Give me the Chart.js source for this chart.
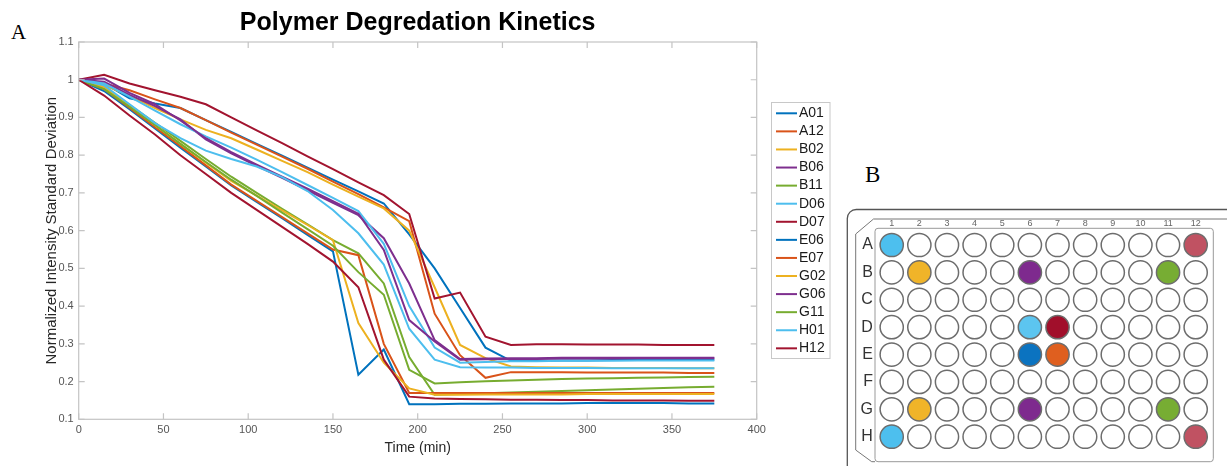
<!DOCTYPE html>
<html>
<head>
<meta charset="utf-8">
<script src="https://cdn.jsdelivr.net/npm/chart.js@4.4.1/dist/chart.umd.min.js"></script>
<style>
  html, body { margin: 0; padding: 0; background: #fff; }
  body { width: 1227px; height: 466px; position: relative; overflow: hidden; }
  #kinetics { position: absolute; left: 0; top: 0; }
  #plate { position: absolute; left: 840px; top: 160px; }
  .panel-tag { position: absolute; font-family: "Liberation Serif", "Times New Roman", serif; line-height: 1; color: #000; }
</style>
</head>
<body>
<div class="panel-tag" style="left:11px; top:22px; font-size:21px;">A</div>
<div class="panel-tag" style="left:865px; top:163px; font-size:23px;">B</div>
<canvas id="kinetics" width="845" height="466"></canvas>
<canvas id="plate" width="387" height="306"></canvas>
<script>
// time points (min)
const times = [0, 15, 30, 45, 60, 75, 90, 105, 120, 135, 150, 165, 180, 195, 210, 225, 240, 255, 270, 285, 300, 315, 330, 345, 360, 375];

const wells = ["A01", "A12", "B02", "B06", "B11", "D06", "D07", "E06", "E07", "G02", "G06", "G11", "H01", "H12"];

// normalized intensity std dev per well
const A01 = [1.000, 0.990, 0.951, 0.937, 0.925, 0.893, 0.862, 0.830, 0.799, 0.767, 0.735, 0.704, 0.672, 0.590, 0.500, 0.395, 0.290, 0.255, 0.255, 0.256, 0.256, 0.257, 0.257, 0.257, 0.258, 0.258];
const A12 = [1.000, 0.990, 0.972, 0.948, 0.925, 0.893, 0.860, 0.828, 0.796, 0.764, 0.730, 0.697, 0.662, 0.625, 0.380, 0.270, 0.210, 0.225, 0.225, 0.225, 0.224, 0.224, 0.224, 0.224, 0.223, 0.223];
const B02 = [1.000, 0.985, 0.958, 0.925, 0.895, 0.867, 0.845, 0.815, 0.785, 0.755, 0.722, 0.690, 0.659, 0.600, 0.450, 0.297, 0.262, 0.240, 0.238, 0.237, 0.237, 0.236, 0.236, 0.236, 0.235, 0.235];
const B06 = [1.000, 0.995, 0.960, 0.930, 0.895, 0.842, 0.805, 0.772, 0.740, 0.707, 0.674, 0.641, 0.580, 0.460, 0.310, 0.260, 0.261, 0.262, 0.262, 0.263, 0.263, 0.263, 0.263, 0.263, 0.263, 0.263];
const B11 = [1.000, 0.980, 0.933, 0.886, 0.838, 0.790, 0.743, 0.700, 0.658, 0.617, 0.575, 0.540, 0.460, 0.265, 0.165, 0.167, 0.169, 0.171, 0.173, 0.175, 0.177, 0.179, 0.181, 0.183, 0.185, 0.186];
const D06 = [1.000, 0.990, 0.955, 0.918, 0.882, 0.850, 0.820, 0.788, 0.755, 0.721, 0.687, 0.652, 0.565, 0.400, 0.290, 0.250, 0.252, 0.254, 0.254, 0.255, 0.255, 0.255, 0.256, 0.256, 0.256, 0.256];
const D07 = [1.000, 1.013, 0.990, 0.972, 0.955, 0.935, 0.900, 0.866, 0.832, 0.797, 0.763, 0.728, 0.694, 0.644, 0.420, 0.436, 0.319, 0.297, 0.299, 0.299, 0.298, 0.298, 0.298, 0.297, 0.297, 0.297];
const E06 = [1.000, 0.970, 0.922, 0.871, 0.820, 0.770, 0.720, 0.676, 0.633, 0.589, 0.545, 0.218, 0.285, 0.140, 0.140, 0.141, 0.141, 0.142, 0.142, 0.142, 0.143, 0.143, 0.143, 0.143, 0.142, 0.142];
const E07 = [1.000, 0.975, 0.925, 0.874, 0.824, 0.773, 0.722, 0.679, 0.636, 0.593, 0.550, 0.535, 0.300, 0.170, 0.170, 0.170, 0.170, 0.170, 0.170, 0.170, 0.170, 0.170, 0.170, 0.170, 0.170, 0.170];
const G02 = [1.000, 0.980, 0.930, 0.880, 0.830, 0.780, 0.732, 0.693, 0.654, 0.615, 0.575, 0.355, 0.250, 0.182, 0.165, 0.165, 0.166, 0.166, 0.166, 0.166, 0.167, 0.167, 0.167, 0.167, 0.167, 0.167];
const G06 = [1.000, 1.003, 0.965, 0.935, 0.892, 0.845, 0.808, 0.775, 0.743, 0.711, 0.678, 0.645, 0.549, 0.363, 0.306, 0.258, 0.259, 0.260, 0.260, 0.261, 0.261, 0.261, 0.262, 0.262, 0.262, 0.262];
const G11 = [1.000, 0.975, 0.928, 0.880, 0.830, 0.782, 0.735, 0.692, 0.648, 0.604, 0.560, 0.490, 0.430, 0.231, 0.195, 0.198, 0.201, 0.203, 0.205, 0.207, 0.208, 0.209, 0.210, 0.211, 0.212, 0.213];
const H01 = [1.000, 0.985, 0.935, 0.885, 0.845, 0.812, 0.790, 0.770, 0.742, 0.705, 0.655, 0.593, 0.510, 0.340, 0.258, 0.238, 0.237, 0.237, 0.236, 0.236, 0.236, 0.235, 0.235, 0.235, 0.235, 0.235];
const H12 = [1.000, 0.958, 0.905, 0.855, 0.800, 0.750, 0.700, 0.655, 0.610, 0.565, 0.518, 0.450, 0.258, 0.160, 0.155, 0.154, 0.153, 0.152, 0.152, 0.151, 0.151, 0.150, 0.150, 0.150, 0.149, 0.149];

const seriesValues = [A01, A12, B02, B06, B11, D06, D07, E06, E07, G02, G06, G11, H01, H12];

const xTicks = [0, 50, 100, 150, 200, 250, 300, 350, 400];
const yTicks = [0.1, 0.2, 0.3, 0.4, 0.5, 0.6, 0.7, 0.8, 0.9, 1.0, 1.1];
const yTickLabels = ["0.1", "0.2", "0.3", "0.4", "0.5", "0.6", "0.7", "0.8", "0.9", "1", "1.1"];

// plate layout
const plateRows = ["A", "B", "C", "D", "E", "F", "G", "H"];
const plateCols = [1, 2, 3, 4, 5, 6, 7, 8, 9, 10, 11, 12];

// colours (matlab default line order, plate well fills)
const lineColors = ["#0072BD", "#D95319", "#EDB120", "#7E2F8E", "#77AC30", "#4DBEEE", "#A2142F"];
const plateFill = {
    A01: "#4dbfee", A12: "#c05262", B02: "#f0b429", B06: "#7e2a8e", B11: "#77ad33",
    D06: "#5cc5f0", D07: "#a10f2b", E06: "#0b73c0", E07: "#df5f1f",
    G02: "#f0b429", G06: "#7e2a8e", G11: "#77ad33", H01: "#4dbfee", H12: "#c05262"
};

Chart.defaults.font.family = "'Liberation Sans', Arial, Helvetica, sans-serif";

// box around the axes with inward tick marks
const axesBox = {
    id: "axesBox",
    afterDraw(chart) {
        const { ctx, chartArea: a, scales: { x, y } } = chart;
        ctx.save();
        ctx.strokeStyle = "#c4c4c4";
        ctx.lineWidth = 1.2;
        ctx.strokeRect(a.left, a.top, a.right - a.left, a.bottom - a.top);
        ctx.beginPath();
        x.ticks.forEach(t => {
            const px = x.getPixelForValue(t.value);
            ctx.moveTo(px, a.bottom); ctx.lineTo(px, a.bottom - 6);
            ctx.moveTo(px, a.top); ctx.lineTo(px, a.top + 6);
        });
        y.ticks.forEach(t => {
            const py = y.getPixelForValue(t.value);
            ctx.moveTo(a.left, py); ctx.lineTo(a.left + 6, py);
            ctx.moveTo(a.right, py); ctx.lineTo(a.right - 6, py);
        });
        ctx.stroke();
        ctx.restore();
    }
};

// matlab-like boxed legend to the right of the axes
const legendBox = {
    id: "legendBox",
    afterDraw(chart) {
        const ctx = chart.ctx;
        ctx.save();
        ctx.fillStyle = "#fff";
        ctx.fillRect(771.5, 102.5, 58.5, 256);
        ctx.strokeStyle = "#c8c8c8";
        ctx.lineWidth = 1;
        ctx.strokeRect(771.5, 102.5, 58.5, 256);
        ctx.font = "14px 'Liberation Sans', Arial, sans-serif";
        ctx.textBaseline = "middle";
        chart.data.datasets.forEach((ds, i) => {
            const yy = 113.3 + i * 18.08;
            ctx.strokeStyle = ds.borderColor;
            ctx.lineWidth = 2;
            ctx.beginPath();
            ctx.moveTo(776, yy);
            ctx.lineTo(797, yy);
            ctx.stroke();
            ctx.fillStyle = "#1a1a1a";
            ctx.fillText(ds.label, 799, yy);
        });
        ctx.restore();
    }
};

new Chart(document.getElementById("kinetics"), {
    type: "line",
    data: {
        labels: times,
        datasets: wells.map((w, i) => ({
            label: w,
            data: seriesValues[i],
            borderColor: lineColors[i % lineColors.length],
            borderWidth: 2,
            pointRadius: 0,
            tension: 0,
            fill: false,
            order: wells.length - i
        }))
    },
    options: {
        responsive: false,
        animation: false,
        layout: { padding: { left: 0, top: 0, right: 88.3, bottom: 0 } },
        plugins: {
            legend: { display: false },
            tooltip: { enabled: false },
            title: {
                display: true,
                text: "Polymer Degredation Kinetics",
                fullSize: false,
                color: "#000",
                font: { size: 25, weight: "bold" },
                padding: { top: 8, bottom: 4 }
            }
        },
        scales: {
            x: {
                type: "linear",
                min: 0,
                max: 400,
                afterBuildTicks: s => { s.ticks = xTicks.map(v => ({ value: v })); },
                afterFit: s => { s.height = 46.7; s.paddingLeft = 0; s.paddingRight = 0; },
                grid: { display: false, drawTicks: false },
                border: { display: false },
                ticks: { padding: 4, color: "#555", font: { size: 11 }, maxRotation: 0, autoSkip: false },
                title: { display: true, text: "Time (min)", color: "#262626", font: { size: 14 }, padding: { top: 0, bottom: 9.5 } }
            },
            y: {
                min: 0.1,
                max: 1.1,
                afterBuildTicks: s => { s.ticks = yTicks.map(v => ({ value: v })); },
                afterFit: s => { s.width = 78.7; s.paddingTop = 0; s.paddingBottom = 0; },
                grid: { display: false, drawTicks: false },
                border: { display: false },
                ticks: {
                    padding: 5, color: "#555", font: { size: 11 }, autoSkip: false,
                    callback: (v, i) => yTickLabels[i]
                },
                title: {
                    display: true, text: "Normalized Intensity Standard Deviation",
                    color: "#262626", font: { size: 15 }, padding: { top: 42.8, bottom: 0 }
                }
            }
        }
    },
    plugins: [axesBox, legendBox]
});

// plate outline drawn behind the wells
const plateOutline = {
    id: "plateOutline",
    beforeDatasetsDraw(chart) {
        const ctx = chart.ctx;
        ctx.save();
        ctx.strokeStyle = "#555";
        ctx.lineWidth = 1.3;
        ctx.beginPath();
        ctx.moveTo(7.3, 306);
        ctx.lineTo(7.3, 58.5);
        ctx.arcTo(7.3, 49.5, 16.3, 49.5, 9);
        ctx.lineTo(387, 49.5);
        ctx.stroke();

        ctx.strokeStyle = "#777";
        ctx.lineWidth = 1;
        ctx.beginPath();
        ctx.moveTo(387, 59);
        ctx.lineTo(33.5, 59);
        ctx.lineTo(15.7, 74);
        ctx.lineTo(15.7, 290);
        ctx.lineTo(31.7, 301.7);
        ctx.lineTo(35, 301.7);
        ctx.stroke();

        ctx.strokeStyle = "#999";
        ctx.beginPath();
        ctx.roundRect(35, 68.3, 338.3, 233.4, 3);
        ctx.stroke();
        ctx.restore();
    }
};

const plateCells = plateRows.flatMap(r => plateCols.map(c => ({ x: c, y: r, name: r + String(c).padStart(2, "0") })));

new Chart(document.getElementById("plate"), {
    type: "scatter",
    data: {
        datasets: [{
            data: plateCells,
            pointRadius: 11.6,
            pointBorderWidth: 1.5,
            pointBorderColor: "#6d6d6d",
            pointBackgroundColor: plateCells.map(p => wells.includes(p.name) ? plateFill[p.name] : "#fff")
        }]
    },
    options: {
        responsive: false,
        animation: false,
        layout: { padding: { left: 0, top: 0, right: 17.5, bottom: 15.6 } },
        plugins: { legend: { display: false }, tooltip: { enabled: false } },
        scales: {
            x: {
                type: "linear",
                position: "top",
                min: 0.5,
                max: 12.5,
                afterBuildTicks: s => { s.ticks = plateCols.map(v => ({ value: v })); },
                afterFit: s => { s.height = 71.3; s.paddingLeft = 0; s.paddingRight = 0; },
                grid: { display: false, drawTicks: false },
                border: { display: false },
                ticks: { padding: 2.6, color: "#666", font: { size: 9 }, maxRotation: 0, autoSkip: false }
            },
            y: {
                type: "category",
                labels: plateRows,
                offset: true,
                afterFit: s => { s.width = 37.9; s.paddingTop = 0; s.paddingBottom = 0; },
                grid: { display: false, drawTicks: false },
                border: { display: false },
                ticks: { padding: 5, color: "#333", font: { size: 16 } }
            }
        }
    },
    plugins: [plateOutline]
});
</script>
</body>
</html>
